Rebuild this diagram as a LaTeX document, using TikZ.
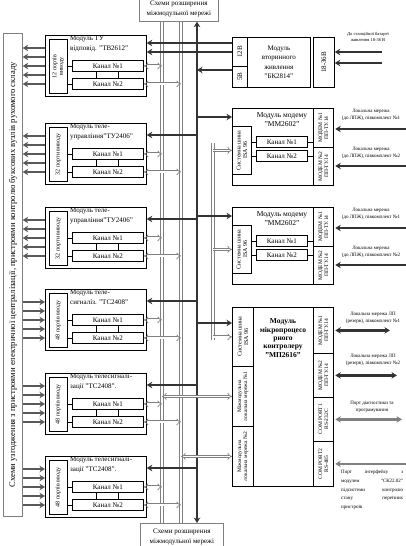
\documentclass[tikz,border=0pt]{standalone}
\usepackage{fontspec}
\setmainfont{Liberation Serif}
\usetikzlibrary{arrows.meta}

\begin{document}
\begin{tikzpicture}[x=1pt, y=-1pt, >={Stealth[length=5.5pt,width=6.5pt]}, every node/.style={font=\fontsize{7}{9.5}\selectfont}]
\tikzstyle{blk}=[draw, line width=0.8pt, inner sep=0pt, anchor=north west, align=center]
\tikzstyle{chan}=[blk, minimum width=71pt, minimum height=11pt]
\tikzstyle{rot}=[rotate=90, align=center, inner sep=0pt, font=\fontsize{6}{6.5}\selectfont]
\tikzstyle{rots}=[rot, font=\fontsize{5.5}{6}\selectfont]
\tikzstyle{ttl}=[anchor=north west, align=left, inner sep=0pt]
\tikzstyle{tiny}=[align=center, inner sep=0pt, font=\fontsize{5}{6.8}\selectfont]
\tikzstyle{gbox}=[draw=gray, line width=0.7pt, inner sep=0pt, anchor=north west, align=center]
\tikzstyle{bus}=[line width=2.5pt, draw=black!80]
\tikzstyle{sig}=[line width=2.2pt, draw=black!65]
\tikzstyle{com}=[line width=2.2pt, draw=black!50]
\tikzstyle{dbl}=[draw=black!50, double=white, double distance=2pt, line width=0.7pt]
\tikzstyle{hol}=[dbl, double distance=1.6pt, {Implies}-{Implies}]
\tikzstyle{holr}=[dbl, double distance=1.6pt, -{Implies}]
\useasboundingbox (0,0) rectangle (406,546);

\coordinate (busA) at (162,0); \coordinate (busB) at (181,0);
\coordinate (busC) at (197,0); \coordinate (isaX) at (213,0);
\coordinate (isaT) at (213,143); \coordinate (isaB) at (213,340);

\node[gbox, minimum width=79pt, minimum height=25pt] (top) at (139,-4) {Схеми розширення\\міжмодульної мережі};
\node[gbox, minimum width=83pt, minimum height=27pt] (bot) at (140,523) {Схеми розширення\\міжмодульної мережі};
\node[gbox, minimum width=19pt, minimum height=483pt] (bar) at (3,33) {};
\node[rot, font=\fontsize{8.6}{9}\selectfont] (bartxt) at (bar.center) {Схеми узгодження з пристроями електричної централізації, пристроями контролю буксових вузлів рухомого складу};

\draw[dbl] (top.south -| busA) -- (bot.north -| busA);
\draw[dbl] (top.south -| busB) -- (bot.north -| busB);
\draw[bus,<->] (top.south -| busC) -- (bot.north -| busC);
\draw[dbl] (isaT) -- (isaB);

\foreach \i/\t/\ttl/\prt in {1/35/{Модуль ТУ\\відповід. "ТВ2612"}/{12 портів\\виводу},
  2/123/{Модуль теле-\\управління"ТУ2406"}/{32 порти виводу},
  3/207/{Модуль теле-\\управління"ТУ2406"}/{32 порти виводу},
  4/289/{Модуль теле-\\сигналіз. "ТС2408"}/{48 портів вводу},
  5/373/{Модуль телесигналі-\\зації "ТС2408".}/{48 портів вводу},
  6/456/{Модуль телесигналі-\\зації "ТС2408".}/{48 портів вводу}}{
  \node[blk, minimum width=101pt, minimum height=61pt] (m\i) at (45,\t) {};
  \node[blk, minimum width=18pt, minimum height=54pt] (p\i) at (49,\t+4) {};
  \node[rot] (pt\i) at (p\i.center) {\prt};
  \node[ttl] (t\i) at (70,\t+1) {\ttl};
  \node[chan] (ca\i) at (72,\t+25) {Канал №1};
  \node[chan] (cb\i) at (72,\t+43) {Канал №2};
  \draw (p\i.east |- ca\i.west) -- (ca\i.west); \draw (p\i.east |- cb\i.west) -- (cb\i.west);
  \draw ([xshift=-12pt]ca\i.south) -- ([xshift=-12pt]cb\i.north);
  \draw ([xshift=10pt]ca\i.south) -- ([xshift=10pt]cb\i.north);
  \draw[hol] (ca\i.east) -- (busA |- ca\i.east);
  \draw[hol] (cb\i.east) -- (busB |- cb\i.east);
  \foreach \k in {0,...,4}{
    \pgfmathsetmacro\yy{\t+13+9*\k}
    \ifnum\i<4 \draw[sig,->] (m\i.west |- 0,\yy) -- (bar.east |- 0,\yy);
    \else \draw[sig,->] (bar.east |- 0,\yy) -- (m\i.west |- 0,\yy); \fi
  }
  \pgfmathsetmacro\yb{\t+12}
  \ifnum\i>1 \draw[bus,<-] (m\i.east |- 0,\yb) -- (busC |- 0,\yb); \fi
}

\node[blk, minimum width=15pt, minimum height=29pt] (v12) at (232,37) {};
\node[blk, minimum width=15pt, minimum height=21pt] (v5) at (232,66) {};
\node[blk, minimum width=63pt, minimum height=50pt] (bk) at (247,37) {Модуль\\вторинного\\живлення\\"БК2814"};
\node[blk, minimum width=21pt, minimum height=50pt] (v18) at (313,37) {};
\node[rot, font=\fontsize{7}{8}\selectfont] (v12t) at (v12.center) {12В};
\node[rot, font=\fontsize{7}{8}\selectfont] (v5t) at (v5.center) {5В};
\node[rot, font=\fontsize{7}{8}\selectfont] (v18t) at (v18.center) {18-36В};
\node[tiny, font=\fontsize{4.5}{6}\selectfont] (bat) at (368,37) {До станційної батареї\\живлення 18-36 В};
\coordinate (b1) at (382,52); \coordinate (b2) at (382,63);
\draw[bus,->] (b1) -- (v18.east |- b1); \draw[bus,->] (b2) -- (v18.east |- b2);
\coordinate (u1) at (0,43); \coordinate (u2) at (0,52); \coordinate (u5) at (0,70);
\draw[bus,<-] (m1.east |- u1) -- (v12.west |- u1);
\draw[bus,<-] (m1.east |- u2) -- (v12.west |- u2);
\draw[bus,->] (v5.west |- u5) -- (busC |- u5);

\foreach \j/\t in {1/108, 2/207}{
  \node[blk, minimum width=101pt, minimum height=77pt] (mm\j) at (232,\t) {};
  \node[blk, minimum width=19pt, minimum height=48pt] (is\j) at (232,\t+18) {};
  \node[rot] (ist\j) at (is\j.center) {Системна шина\\ISA 96};
  \node[blk, minimum width=20pt, minimum height=39pt] (mda\j) at (313,\t) {};
  \node[blk, minimum width=20pt, minimum height=38pt] (mdb\j) at (313,\t+39) {};
  \node[rots] (mdat\j) at (mda\j.center) {МОДЕМ №1\\ПП-ТУ.14};
  \node[rots] (mdbt\j) at (mdb\j.center) {МОДЕМ №2\\ПП-ТУ.14};
  \node[align=center, font=\fontsize{7.5}{9}\selectfont] (tm\j) at (282,\t+12) {Модуль модему\\"ММ2602"};
  \node[chan, minimum width=51pt] (ka\j) at (256,\t+28) {Канал №1};
  \node[chan, minimum width=51pt] (kb\j) at (256,\t+42) {Канал №2};
  \draw (is\j.east |- ka\j.west) -- (ka\j.west); \draw (ka\j.east) -- (mda\j.west |- ka\j.east);
  \draw (is\j.east |- kb\j.west) -- (kb\j.west); \draw (kb\j.east) -- (mdb\j.west |- kb\j.east);
  \pgfmathsetmacro\yb{\t+9}
  \draw[bus,->] (busC |- 0,\yb) -- (mm\j.west |- 0,\yb);
  \draw[holr] (isaX |- is\j.west) -- (is\j.west);
  \pgfmathsetmacro\ya{\t+21} \pgfmathsetmacro\yc{\t+58}
  \draw[bus,<->,shorten <=1.5pt] (mda\j.east |- 0,\ya) -- (412,\ya);
  \draw[bus,<->,shorten <=1.5pt] (mdb\j.east |- 0,\yc) -- (412,\yc);
  \node[tiny] (lla\j) at (371,\t+7) {Локальна мережа\\(до ЛПЖ), півкомплект №1};
  \node[tiny] (llb\j) at (371,\t+45) {Локальна мережа\\(до ЛПЖ), півкомплект №2};
}

\node[blk, minimum width=101pt, minimum height=179pt] (mp) at (232,307) {};
\node[blk, minimum width=21pt, minimum height=59pt] (mpi) at (232,307) {};
\node[blk, minimum width=21pt, minimum height=60pt] (mpn1) at (232,366) {};
\node[blk, minimum width=21pt, minimum height=60pt] (mpn2) at (232,426) {};
\node[blk, minimum width=20pt, minimum height=46pt] (mpm1) at (313,307) {};
\node[blk, minimum width=20pt, minimum height=44pt] (mpm2) at (313,353) {};
\node[blk, minimum width=20pt, minimum height=44pt] (mpc1) at (313,397) {};
\node[blk, minimum width=20pt, minimum height=45pt] (mpc2) at (313,441) {};
\node[rot] (mpit) at (mpi.center) {Системна шина\\ISA 96};
\node[rots] (mpn1t) at (mpn1.center) {Міжмодульна\\локальна мережа №1};
\node[rots] (mpn2t) at (mpn2.center) {Міжмодульна\\локальна мережа №2};
\node[rots] (mpm1t) at (mpm1.center) {МОДЕМ №1\\ПП-ТУ.14};
\node[rots] (mpm2t) at (mpm2.center) {МОДЕМ №2\\ПП-ТУ.14};
\node[rots] (mpc1t) at (mpc1.center) {COM PORT1\\RS-232C};
\node[rots] (mpc2t) at (mpc2.center) {COM PORT2\\RS-485};
\node[align=center, font=\bfseries\fontsize{7.5}{8.3}\selectfont] (mpt) at (283,338) {Модуль\\мікропроцесо\\рного\\контролеру\\"МП2616"};

\coordinate (u6) at (0,323);
\draw[bus,->] (busC |- u6) -- (mp.west |- u6);
\draw[holr] (isaX |- mpi.west) -- (mpi.west);
\draw[hol] (busA |- mpn1.west) -- (mpn1.west);
\draw[hol] (busB |- mpn2.west) -- (mpn2.west);

\coordinate (r1) at (390,0); \coordinate (r2) at (397,0);
\coordinate (r3) at (402,0); \coordinate (r4) at (412,0);
\draw[bus,<->,shorten <=1.5pt] (mpm1.east) -- (r1 |- mpm1.east);
\draw[bus,<->,shorten <=1.5pt] (mpm2.east) -- (r2 |- mpm2.east);
\draw[com,<->,shorten <=1.5pt] (mpc1.east) -- (r3 |- mpc1.east);
\draw[com,<->,shorten <=1.5pt] (mpc2.east) -- (r4 |- mpc2.east);
\node[tiny] (lm1) at (373,318) {Локальна мережа ЛП\\(резерв), півкомплект №1};
\node[tiny] (lm2) at (373,360) {Локальна мережа ЛП\\(резерв), півкомплект №2};
\node[tiny] (lc1) at (372,407) {Порт діагностики та\\програмування};
\node[tiny, anchor=north west, text width=62pt, align=justify, font=\fontsize{5}{8.7}\selectfont] (lc2) at (341,470) {Порт інтерфейсу з\linebreak модулем "СК22.02"\linebreak підсистеми контролю\linebreak стану переїзних\linebreak пристроїв};
\end{tikzpicture}
\end{document}
